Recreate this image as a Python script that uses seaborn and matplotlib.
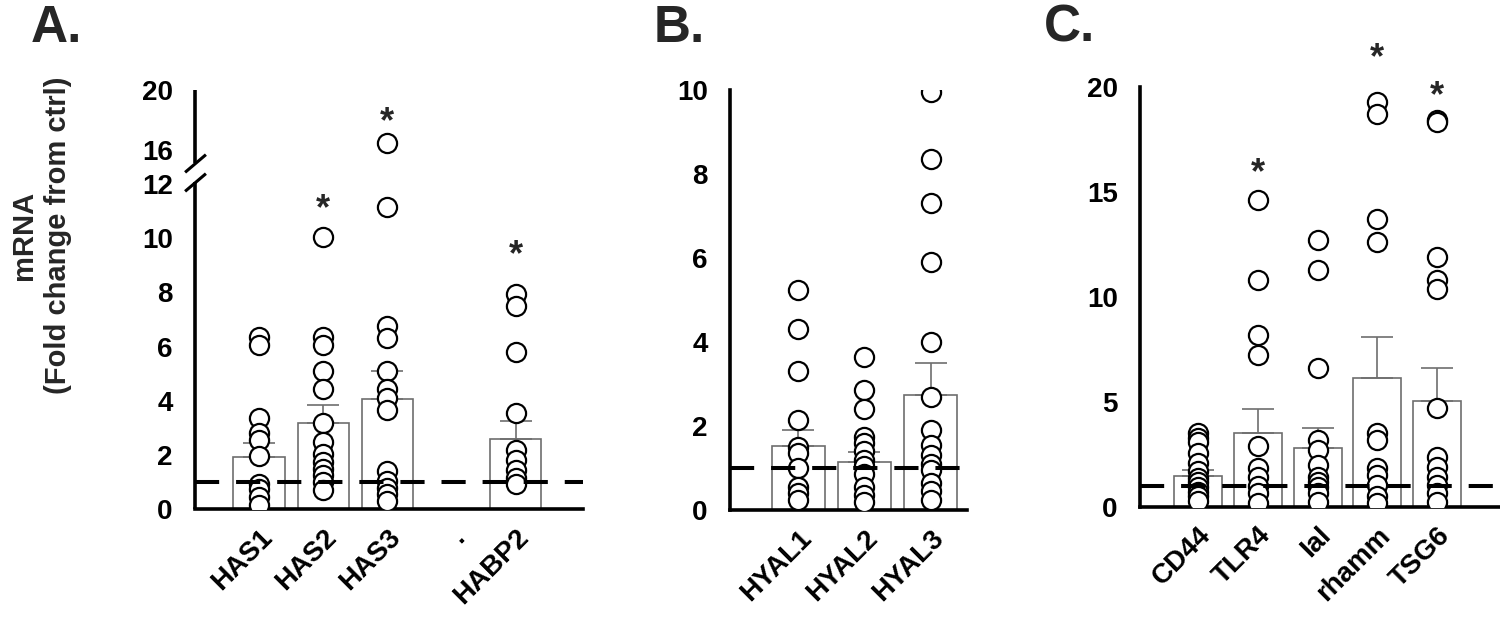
import numpy as np
import pandas as pd
import matplotlib
matplotlib.use("Agg")
import matplotlib.pyplot as plt
from matplotlib.path import Path
from matplotlib.transforms import offset_copy
import seaborn as sns

sns.set_theme(style="white")
plt.rcParams['font.family'] = ['Liberation Sans', 'DejaVu Sans']
plt.rcParams['font.weight'] = 'bold'

# ---------------- data ----------------
# Panel A
A_order = ["HAS1", "HAS2", "HAS3", ".", "HABP2"]
A_bar_cats = ["HAS1", "HAS2", "HAS3", "HABP2"]
A_means = [1.93, 3.17, 4.06, 2.58]
A_sem = [0.52, 0.68, 1.04, 0.69]
has1_pts = [6.35, 6.05, 3.35, 2.8, 2.55, 1.95, 0.95, 0.75, 0.45, 0.15]
has2_pts = [10.05, 6.35, 6.05, 5.1, 4.45, 3.2, 2.5, 2.05, 1.75, 1.5, 1.25, 1.0, 0.7]
has3_pts = [16.45, 11.15, 6.75, 6.3, 5.1, 4.45, 4.1, 3.65, 1.4, 1.05, 0.8, 0.55, 0.3]
habp2_pts = [7.95, 7.5, 5.8, 3.55, 2.2, 1.8, 1.45, 1.15, 0.95]
A_star_cats = ["HAS2", "HAS3", "HABP2"]
A_star_y = [11.4, 18.45, 9.7]
A_yticks = [0, 2, 4, 6, 8, 10, 12, 16, 20]

# Panel B
B_order = ["HYAL1", "HYAL2", "HYAL3"]
B_means = [1.53, 1.14, 2.74]
B_sem = [0.37, 0.23, 0.75]
hyal1_pts = [5.25, 4.3, 3.3, 2.15, 1.5, 1.35, 1.0, 0.55, 0.4, 0.25]
hyal2_pts = [3.65, 2.85, 2.4, 1.75, 1.6, 1.4, 1.2, 1.05, 0.85, 0.55, 0.35, 0.2]
hyal3_pts = [9.95, 8.35, 7.3, 5.9, 4.0, 2.7, 1.9, 1.55, 1.3, 1.1, 0.95, 0.65, 0.45, 0.25]
B_yticks = [0, 2, 4, 6, 8, 10]

# Panel C
C_order = ["CD44", "TLR4", "Ial", "rhamm", "TSG6"]
C_means = [1.48, 3.54, 2.82, 6.16, 5.06]
C_sem = [0.28, 1.11, 0.93, 1.92, 1.54]
cd44_pts = [3.5, 3.3, 3.1, 2.55, 2.1, 1.7, 1.4, 1.2, 0.95, 0.7, 0.5, 0.3]
tlr4_pts = [14.6, 10.8, 8.2, 7.25, 2.9, 1.85, 1.45, 1.0, 0.65, 0.2]
ial_pts = [12.7, 11.3, 6.6, 3.2, 2.7, 2.0, 1.45, 1.2, 0.95, 0.65, 0.25]
rhamm_pts = [19.3, 18.7, 13.7, 12.6, 3.5, 3.2, 1.85, 1.5, 1.05, 0.5, 0.2]
tsg6_pts = [18.45, 18.35, 11.9, 10.8, 10.4, 4.7, 2.4, 1.9, 1.45, 1.05, 0.65, 0.25]
C_star_cats = ["TLR4", "rhamm", "TSG6"]
C_star_y = [16.3, 21.8, 19.95]
C_yticks = [0, 5, 10, 15, 20]

CTRL = 1.0

# ---------------- figure ----------------
fig = plt.figure(figsize=(15, 6.17), dpi=100)
axA = fig.add_axes([0.130, 0.1746, 0.2587, 0.6796])
axB = fig.add_axes([0.4867, 0.1734, 0.158, 0.6807])
axC = fig.add_axes([0.760, 0.1783, 0.240, 0.6807])

# broken y scale for panel A
G = 0.3137
H = 0.5535


def fwd(y):
    y = np.asarray(y, dtype=float)
    return np.where(y <= 12, y,
                    np.where(y <= 16, 12 + (y - 12) * G,
                             12 + 4 * G + (y - 16) * H))


def inv(u):
    u = np.asarray(u, dtype=float)
    u16 = 12 + 4 * G
    return np.where(u <= 12, u,
                    np.where(u <= u16, 12 + (u - 12) / G,
                             16 + (u - u16) / H))


def long_df(order, pts_lists):
    rows = []
    for c, pts in zip(order, pts_lists):
        for v in pts:
            rows.append((c, v))
    return pd.DataFrame(rows, columns=["gene", "fold"])


def draw_panel(ax, order, bar_cats, means, sem, pts_df, xlim, ylim, yticks,
               star_cats=None, star_y=None, scale=None):
    if scale is not None:
        ax.set_yscale('function', functions=scale)
    bars = pd.DataFrame({"gene": bar_cats, "fold": means})
    sns.barplot(data=bars, x="gene", y="fold", order=order, ax=ax,
                color="white", edgecolor="#6e6e6e", linewidth=1.2,
                width=0.8, errorbar=None, zorder=1)
    for p in ax.patches:
        p.set_facecolor("white")
    xpos = [order.index(c) for c in bar_cats]
    ax.errorbar(xpos, means, yerr=[np.zeros(len(sem)), sem], fmt='none',
                ecolor="#6e6e6e", elinewidth=1.2, capsize=11.5,
                capthick=1.2, zorder=2)
    sns.stripplot(data=pts_df, x="gene", y="fold", order=order, ax=ax,
                  jitter=False, color="white", edgecolor="black",
                  linewidth=1.6, size=13.8, zorder=3)
    ax.axhline(CTRL, color="black", lw=2.9, dashes=(6.0, 4.2), zorder=4,
               clip_on=False)
    if star_cats:
        star_tr = offset_copy(ax.transData, fig=fig, x=0, y=-6.5,
                              units="points")
        for c, yv in zip(star_cats, star_y):
            ax.text(order.index(c), yv, "*", ha="center", va="center",
                    fontsize=26, fontweight="bold", clip_on=False, zorder=5,
                    transform=star_tr)
    ax.set_xlim(*xlim)
    ax.set_ylim(*ylim)
    ax.set_yticks(yticks)
    ax.set_yticklabels([str(t) for t in yticks])
    ax.set_xticks(range(len(order)))
    ax.set_xticklabels(order, rotation=45, ha="right",
                       rotation_mode="anchor")
    ax.set_xlabel("")
    ax.set_ylabel("")
    for s in ["top", "right"]:
        ax.spines[s].set_visible(False)
    ax.spines["bottom"].set_linewidth(2.6)
    ax.spines["left"].set_linewidth(2.6)
    ax.spines["bottom"].set_color("black")
    ax.spines["left"].set_color("black")
    ax.tick_params(axis="both", direction="out", length=5, width=2.6,
                   color="black", labelsize=20)
    ax.tick_params(axis="y", pad=11)
    ax.tick_params(axis="x", pad=6)
    for lab in ax.get_xticklabels() + ax.get_yticklabels():
        lab.set_fontweight("bold")
        lab.set_color("black")
    ax.grid(False)


dfA = long_df(["HAS1", "HAS2", "HAS3", "HABP2"],
              [has1_pts, has2_pts, has3_pts, habp2_pts])
dfB = long_df(B_order, [hyal1_pts, hyal2_pts, hyal3_pts])
dfC = long_df(C_order, [cd44_pts, tlr4_pts, ial_pts, rhamm_pts, tsg6_pts])

draw_panel(axA, A_order, A_bar_cats, A_means, A_sem, dfA, (-1.0, 5.05),
           (0, 20), A_yticks, A_star_cats, A_star_y, scale=(fwd, inv))
draw_panel(axB, B_order, B_order, B_means, B_sem, dfB, (-1.03, 2.55),
           (0, 10), B_yticks)
draw_panel(axC, C_order, C_order, C_means, C_sem, dfC, (-0.97, 5.05),
           (0, 20), C_yticks, C_star_cats, C_star_y)

# broken left spine in panel A
BRK_LO, BRK_HI = 12.25, 14.5
axA.spines["left"].set_visible(False)
ytr = axA.get_yaxis_transform()
axA.plot([0, 0], [0, BRK_LO], transform=ytr, color="black", lw=2.6,
         solid_capstyle="butt", clip_on=False, zorder=6)
axA.plot([0, 0], [BRK_HI, 20], transform=ytr, color="black", lw=2.6,
         solid_capstyle="butt", clip_on=False, zorder=6)
slash = Path([(-1, -0.85), (1, 0.85)], [Path.MOVETO, Path.LINETO])
axA.plot([0, 0], [BRK_LO, BRK_HI], transform=ytr, linestyle="none",
         marker=slash, markersize=15, markeredgewidth=2.2,
         markeredgecolor="black", clip_on=False, zorder=6)

# y label and panel letters
fig.text(41 / 1500, 1 - 235 / 617, "mRNA\n(Fold change from ctrl)",
         rotation=90, ha="center", va="center", multialignment="center",
         fontsize=21, fontweight="bold", linespacing=1.3)
for letter, xp in [("A.", 31), ("B.", 654), ("C.", 1044)]:
    fig.text(xp / 1500, 1 - 42 / 617, letter, ha="left", va="baseline",
             fontsize=37, fontweight="bold")

fig.savefig("out.png", dpi=100)
